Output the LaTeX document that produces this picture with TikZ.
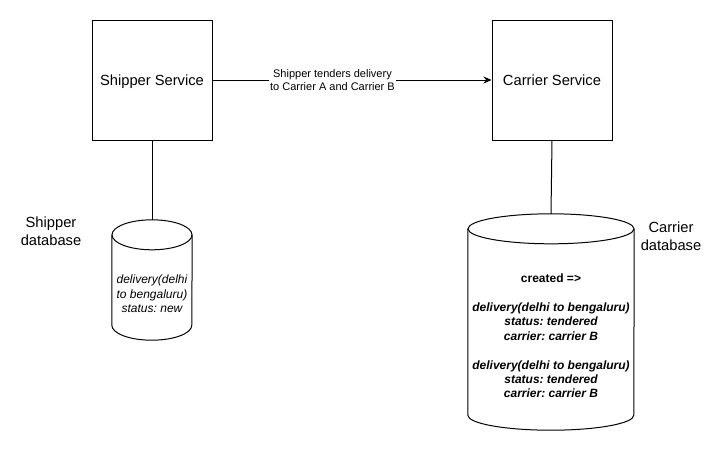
\documentclass[tikz,border=0pt]{standalone}
\usepackage{fontspec}
\setmainfont{Liberation Sans}
\frenchspacing
\usetikzlibrary{arrows.meta,positioning}
\tikzset{
  svcbox/.style={draw, line width=1pt, minimum width=120pt, minimum height=120pt,
                 inner sep=0pt, text depth=0pt, font=\fontsize{14.7}{17.6}\selectfont},
  dbbody/.style={inner sep=0pt, minimum width=#1},
  dbtext/.style={font=\fontsize{12}{14.4}\selectfont, align=center, inner sep=0pt},
  dblabel/.style={font=\fontsize{14.7}{17.6}\selectfont, align=center, inner sep=0pt},
  flowlabel/.style={fill=white, font=\fontsize{11}{13.2}\selectfont, align=center,
                    inner sep=1.5pt},
  flow/.style={line width=1pt, -{Stealth[length=8pt,width=7pt]}},
  link/.style={line width=1pt},
}
% cylinder drawn round an empty node: #1 node name, #2 half width
\newcommand{\dbcylinder}[2]{%
  \draw[link] ([yshift=-15pt]#1.north west) -- ([yshift=15pt]#1.south west)
    arc[start angle=180, end angle=360, x radius=#2, y radius=15pt]
    -- ([yshift=-15pt]#1.north east);
  \draw[link] ([yshift=-15pt]#1.north) ellipse[x radius=#2, y radius=15pt];
}

\begin{document}
\begin{tikzpicture}[x=1pt, y=-1pt]
\useasboundingbox (0,0) rectangle (722,451);

% --- services ---
\node[svcbox] (shipper) at (152,80) {Shipper Service};
\node[svcbox] (carrier) at (552,80) {Carrier Service};

\draw[flow] (shipper) -- (carrier)
  node[flowlabel, pos=0.43] (tender) {Shipper tenders delivery\\to Carrier A and Carrier B};

% --- shipper database ---
\node[dbbody=80pt, minimum height=120pt] (shipdb) at (152,280) {};
\dbcylinder{shipdb}{40pt}
\node[dbtext, font=\fontsize{12}{14.4}\selectfont\itshape] (shipdbtext)
  at ([yshift=-14pt]shipdb.center) {delivery(delhi\\to bengaluru)\\status: new};
\node[dblabel] (shipdblabel) at (51,231) {Shipper\\database};
\draw[link] (shipper.south) -- (shipdb.north);

% --- carrier database ---
\node[dbbody=166pt, minimum height=216pt] (carrdb) at (551,322) {};
\dbcylinder{carrdb}{83pt}
\node[dbtext, font=\fontsize{12}{14.4}\selectfont\bfseries] (carrdbtext)
  at ([yshift=-14pt]carrdb.center)
  {created =>\\[14.4pt]
   \itshape delivery(delhi to bengaluru)\\\itshape status: tendered\\\itshape carrier: carrier B\\[14.4pt]
   \itshape delivery(delhi to bengaluru)\\\itshape status: tendered\\\itshape carrier: carrier B};
\node[dblabel] (carrdblabel) at (671,236) {Carrier\\database};
\draw[link] (carrier.south) -- (carrdb.north);

\end{tikzpicture}
\end{document}
